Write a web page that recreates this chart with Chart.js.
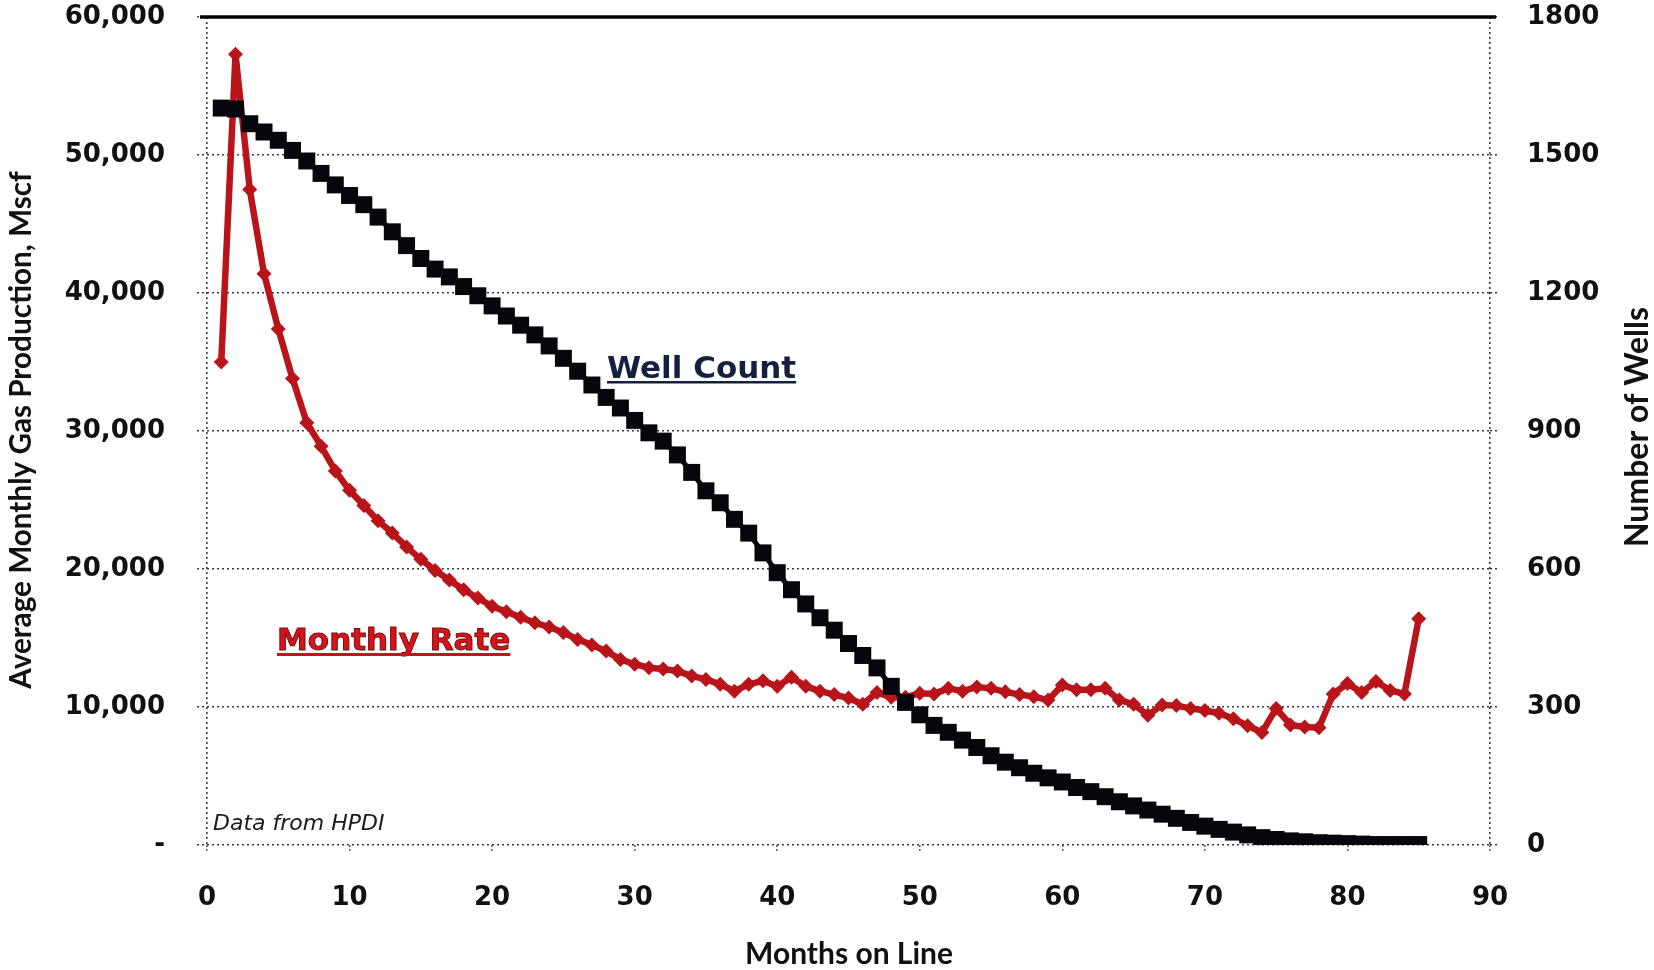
<!DOCTYPE html>
<html>
<head>
<meta charset="utf-8">
<script src="https://cdn.jsdelivr.net/npm/chart.js@4.4.1/dist/chart.umd.min.js"></script>
<style>
  html, body { margin: 0; padding: 0; background: #ffffff; }
  #wrap { width: 1654px; height: 970px; }
</style>
</head>
<body>
<div id="wrap"><canvas id="c" width="1654" height="970"></canvas></div>
<script>
// Months on line (x values)
const months = [
  1, 2, 3, 4, 5, 6, 7, 8, 9, 10,
  11, 12, 13, 14, 15, 16, 17, 18, 19, 20,
  21, 22, 23, 24, 25, 26, 27, 28, 29, 30,
  31, 32, 33, 34, 35, 36, 37, 38, 39, 40,
  41, 42, 43, 44, 45, 46, 47, 48, 49, 50,
  51, 52, 53, 54, 55, 56, 57, 58, 59, 60,
  61, 62, 63, 64, 65, 66, 67, 68, 69, 70,
  71, 72, 73, 74, 75, 76, 77, 78, 79, 80,
  81, 82, 83, 84, 85
];

// Average monthly gas production per well, Mscf (left axis)
const monthlyRate = [
  35000, 57300, 47500, 41400, 37400, 33800, 30600, 28900, 27100, 25700,
  24600, 23500, 22600, 21600, 20700, 19900, 19200, 18500, 17900, 17300,
  16900, 16500, 16100, 15800, 15400, 14900, 14500, 14050, 13450, 13100,
  12850, 12750, 12600, 12250, 12000, 11650, 11150, 11650, 11900, 11500,
  12150, 11500, 11150, 10900, 10650, 10200, 11050, 10700, 10700, 11000,
  10950, 11350, 11150, 11450, 11350, 11100, 10900, 10750, 10500, 11600,
  11250, 11250, 11350, 10500, 10200, 9400, 10150, 10100, 9900, 9750,
  9550, 9150, 8650, 8150, 9900, 8700, 8550, 8500, 10950, 11700,
  11050, 11850, 11200, 10950, 16400
];

// Number of wells reporting at each month (right axis)
const wellCount = [
  1602, 1600, 1568, 1550, 1532, 1510, 1487, 1460, 1435, 1412,
  1392, 1365, 1333, 1303, 1275, 1252, 1235, 1214, 1194, 1172,
  1150, 1130, 1109, 1085, 1058, 1030, 1000, 973, 950, 923,
  896, 878, 848, 810, 770, 744, 708, 678, 635, 592,
  555, 524, 494, 467, 438, 412, 385, 345, 310, 283,
  260, 245, 228, 212, 194, 180, 168, 156, 146, 137,
  125, 116, 105, 94, 85, 76, 67, 58, 49, 41,
  34, 28, 22, 16, 12, 9, 7, 5, 4, 3,
  2, 1, 1, 1, 1
];

// Axis tick values
const xTicks = [0, 10, 20, 30, 40, 50, 60, 70, 80, 90];
const rateTicks = [0, 10000, 20000, 30000, 40000, 50000, 60000];
const wellTicks = [0, 300, 600, 900, 1200, 1500, 1800];

// Plot frame in canvas pixels
const frame = { left: 207, right: 1490, top: 17, bottom: 845 };

const tickFont = { family: 'DejaVu Sans', weight: 'bold', size: 26 };
const gridInk = '#3a3a3a';
const dots = [2, 3];

const ratePoints = months.map((m, i) => ({ x: m, y: monthlyRate[i] }));
const wellPoints = months.map((m, i) => ({ x: m, y: wellCount[i] }));

// Axis titles, in-plot labels and the heavy top rule
const decorations = {
  id: 'decorations',
  afterDatasetsDraw(chart) {
    const ctx = chart.ctx;
    const area = chart.chartArea;
    const yTop = chart.scales.y.getPixelForValue(60000);

    ctx.save();
    // heavy rule along the top of the plot
    ctx.strokeStyle = '#000';
    ctx.lineWidth = 3.5;
    ctx.beginPath();
    ctx.moveTo(area.left - 7, yTop);
    ctx.lineTo(area.right + 6, yTop);
    ctx.stroke();

    // "Well Count" label
    ctx.font = 'bold 31px "DejaVu Sans"';
    ctx.textBaseline = 'alphabetic';
    ctx.textAlign = 'left';
    ctx.fillStyle = '#14203f';
    const wcText = 'Well Count';
    ctx.fillText(wcText, 607, 378);
    let w = ctx.measureText(wcText).width;
    ctx.fillRect(607, 381, w, 2.5);

    // "Monthly Rate" label
    ctx.font = 'bold 31px "DejaVu Sans"';
    const mrText = 'Monthly Rate';
    ctx.fillStyle = '#d5141b';
    ctx.fillText(mrText, 277, 650);
    ctx.strokeStyle = '#7a0a0e';
    ctx.lineWidth = 1;
    ctx.strokeText(mrText, 277, 650);
    w = ctx.measureText(mrText).width;
    ctx.fillStyle = '#c8121a';
    ctx.fillRect(277, 653, w, 3);

    // source note
    ctx.font = 'italic 22px "DejaVu Sans"';
    ctx.fillStyle = '#1a1a1a';
    ctx.fillText('Data from HPDI', 213, 830);

    // axis titles
    ctx.fillStyle = '#111';
    ctx.textAlign = 'center';
    ctx.textBaseline = 'middle';
    ctx.font = 'bold 30px Lato';
    ctx.fillText('Months on Line', 849, 954);

    ctx.save();
    ctx.translate(21, 430);
    ctx.rotate(-Math.PI / 2);
    ctx.font = 'bold 29.7px Lato';
    ctx.fillText('Average Monthly Gas Production, Mscf', 0, 0);
    ctx.restore();

    ctx.save();
    ctx.translate(1638, 427);
    ctx.rotate(-Math.PI / 2);
    ctx.font = 'bold 32px Lato';
    ctx.fillText('Number of Wells', 0, 0);
    ctx.restore();

    ctx.restore();
  }
};

const chart = new Chart(document.getElementById('c'), {
  type: 'line',
  data: {
    datasets: [
      {
        label: 'Well Count',
        data: wellPoints,
        yAxisID: 'y2',
        borderColor: '#06060d',
        backgroundColor: '#06060d',
        borderWidth: 5,
        pointStyle: 'rect',
        pointRadius: 12,
        pointBorderWidth: 0,
        tension: 0
      },
      {
        label: 'Monthly Rate',
        data: ratePoints,
        yAxisID: 'y',
        borderColor: '#b8141a',
        backgroundColor: '#b8141a',
        borderWidth: 6.5,
        pointStyle: 'rectRot',
        pointRadius: 7.5,
        pointBorderWidth: 0,
        tension: 0
      }
    ]
  },
  options: {
    responsive: false,
    animation: false,
    events: [],
    layout: { padding: { top: frame.top, left: 0, right: 0, bottom: 0 }, autoPadding: false },
    plugins: { legend: { display: false }, tooltip: { enabled: false } },
    scales: {
      x: {
        type: 'linear',
        min: 0,
        max: 90,
        afterBuildTicks: s => { s.ticks = xTicks.map(v => ({ value: v })); },
        afterFit: s => { s.height = 970 - frame.bottom; s.paddingLeft = 0; s.paddingRight = 0; },
        border: { display: false, dash: dots },
        grid: {
          color: c => (c.tick && (c.tick.value === 0 || c.tick.value === 90)) ? gridInk : 'rgba(0,0,0,0)',
          lineWidth: 1.6,
          drawTicks: true,
          tickLength: 8,
          tickColor: '#666',
          tickBorderDash: [2, 2]
        },
        ticks: {
          font: tickFont,
          color: '#111',
          padding: 30,
          maxRotation: 0,
          autoSkip: false,
          callback: v => String(v)
        }
      },
      y: {
        position: 'left',
        min: 0,
        max: 60000,
        afterBuildTicks: s => { s.ticks = rateTicks.map(v => ({ value: v })); },
        afterFit: s => { s.width = frame.left; s.paddingTop = 0; s.paddingBottom = 0; },
        border: { display: false, dash: dots },
        grid: {
          color: gridInk,
          lineWidth: 1.5,
          drawTicks: true,
          tickLength: 10,
          tickColor: gridInk,
          tickBorderDash: dots
        },
        ticks: {
          font: tickFont,
          color: '#111',
          padding: 32,
          callback: v => v === 0 ? '-' : v.toLocaleString('en-US')
        }
      },
      y2: {
        position: 'right',
        min: 0,
        max: 1800,
        afterBuildTicks: s => { s.ticks = wellTicks.map(v => ({ value: v })); },
        afterFit: s => { s.width = 1654 - frame.right; s.paddingTop = 0; s.paddingBottom = 0; },
        border: { display: false, dash: dots },
        grid: {
          drawOnChartArea: false,
          color: gridInk,
          lineWidth: 1.5,
          drawTicks: true,
          tickLength: 10,
          tickColor: gridInk,
          tickBorderDash: dots
        },
        ticks: {
          font: tickFont,
          color: '#111',
          padding: 27,
          callback: v => String(v)
        }
      }
    }
  },
  plugins: [decorations]
});

// Pin the plot area to the frame if the layout left any slack
const pad = chart.options.layout.padding;
const dTop = chart.chartArea.top - frame.top;
const dBottom = frame.bottom - chart.chartArea.bottom;
if (Math.abs(dTop) > 0.5 || Math.abs(dBottom) > 0.5) {
  pad.top = frame.top - dTop;
  pad.bottom = -dBottom;
  chart.update();
}
</script>
</body>
</html>
